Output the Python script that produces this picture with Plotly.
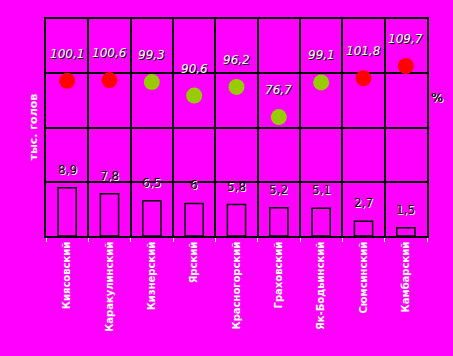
import plotly.graph_objects as go

categories = ["Киясовский", "Каракулинский", "Кизнерский", "Ярский", "Красногорский",
              "Граховский", "Як-Бодьинский", "Сюмсинский", "Камбарский"]
heads_thousand = [8.9, 7.8, 6.5, 6.0, 5.8, 5.2, 5.1, 2.7, 1.5]
heads_labels = ["8,9", "7,8", "6,5", "6", "5,8", "5,2", "5,1", "2,7", "1,5"]
percent = [100.1, 100.6, 99.3, 90.6, 96.2, 76.7, 99.1, 101.8, 109.7]
percent_labels = ["100,1", "100,6", "99,3", "90,6", "96,2", "76,7", "99,1", "101,8", "109,7"]

BG = "#FF00FF"
RED = "#FF0000"
GREEN = "#99CC00"
dot_colors = [RED if p >= 100 else GREEN for p in percent]

fig = go.Figure()
fig.add_trace(go.Bar(
    x=categories, y=heads_thousand, width=0.43,
    marker=dict(color="rgba(0,0,0,0)", line=dict(color="black", width=1.5)),
    hoverinfo="skip", showlegend=False,
))
fig.add_trace(go.Scatter(
    x=categories, y=percent, yaxis="y2", mode="markers",
    marker=dict(size=16, color=dot_colors, line=dict(width=0)),
    hoverinfo="skip", showlegend=False,
))

annotations = []
for c, v, t in zip(categories, heads_thousand, heads_labels):
    annotations.append(dict(x=c, y=v, xref="x", yref="y", text=t, showarrow=False,
                            yshift=18, font=dict(family="DejaVu Sans", size=12, color="black",
                                                 shadow="1px 1px 0px white")))
for c, v, t in zip(categories, percent, percent_labels):
    annotations.append(dict(x=c, y=v, xref="x", yref="y2", text="<i>" + t + "</i>", showarrow=False,
                            yshift=27, font=dict(family="DejaVu Sans", size=12, color="white",
                                                 shadow="1px 1px 0px black")))
annotations.append(dict(x=0, y=0.5, xref="paper", yref="paper", text="<b>тыс. голов</b>",
                        textangle=-90, showarrow=False, xshift=-13, xanchor="center", yanchor="middle",
                        font=dict(family="DejaVu Sans", size=11, color="white")))
annotations.append(dict(x=1, y=0.636, xref="paper", yref="paper", text="<b>%</b>",
                        showarrow=False, xshift=10, xanchor="center", yanchor="middle",
                        font=dict(family="DejaVu Sans", size=12, color="black",
                                  shadow="1px 1px 0px white")))

fig.update_layout(
    width=453, height=356,
    margin=dict(l=46, r=26, t=19, b=120),
    paper_bgcolor=BG, plot_bgcolor=BG,
    xaxis=dict(type="category", range=[-0.5, 8.5], tickson="boundaries", showgrid=True,
               gridcolor="black", gridwidth=1.5,
               ticks="outside", ticklen=4, tickcolor="white", tickangle=-90,
               tickfont=dict(family="DejaVu Sans", size=10, color="white", weight="bold"),
               showline=True, linecolor="black", linewidth=1.5, mirror=True),
    yaxis=dict(range=[0, 40], dtick=10, showgrid=True, gridcolor="black", gridwidth=1.5,
               showticklabels=False, zeroline=False, showline=True, linecolor="black", linewidth=1.5,
               mirror=True, ticks=""),
    yaxis2=dict(range=[0, 140], overlaying="y", side="right", showgrid=False,
                showticklabels=False, zeroline=False, ticks=""),
    annotations=annotations,
)

fig.write_html("out.html", config={"displayModeBar": False},
               post_script="document.body.style.margin='0';document.body.style.background='#FF00FF';")
